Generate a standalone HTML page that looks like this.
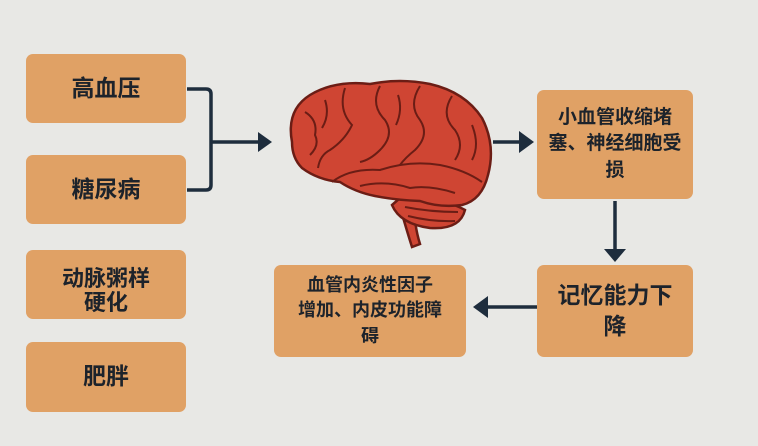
<!DOCTYPE html>
<html><head><meta charset="utf-8"><style>
body{margin:0;width:758px;height:446px;background:#e8e8e5;position:relative;overflow:hidden;font-family:"Liberation Sans","Noto Sans CJK SC",sans-serif;}
.b{position:absolute;background:#e0a165;border-radius:7px;display:flex;align-items:center;justify-content:center;text-align:center;color:#1d232b;font-weight:bold;line-height:1.3;}
svg{position:absolute;left:0;top:0}
</style></head><body>
<div class="b" style="left:26px;top:54px;width:160px;height:69px;font-size:23px">高血压</div>
<div class="b" style="left:26px;top:155px;width:160px;height:69px;font-size:23px">糖尿病</div>
<div class="b" style="left:26px;top:250px;width:160px;height:69px;font-size:22px;line-height:1.05;padding-top:12px;box-sizing:border-box">动脉粥样<br>硬化</div>
<div class="b" style="left:26px;top:342px;width:160px;height:70px;font-size:23px">肥胖</div>
<div class="b" style="left:537px;top:90px;width:156px;height:109px;font-size:19px;line-height:1.4">小血管收缩堵<br>塞、神经细胞受<br>损</div>
<div class="b" style="left:537px;top:265px;width:156px;height:92px;font-size:23px;line-height:1.35">记忆能力下<br>降</div>
<div class="b" style="left:274px;top:265px;width:192px;height:92px;font-size:18px;line-height:1.4">血管内炎性因子<br>增加、内皮功能障<br>碍</div>
<svg width="758" height="446">
<g stroke="#1e2d3d" stroke-width="3.5" fill="none">
<path d="M187 89 H206 Q211 89 211 94 V185 Q211 190 206 190 H187"/>
<path d="M211 142 H262"/>
<path d="M493 142 H522"/>
<path d="M615 201 V250"/>
<path d="M537 307 H485"/>
</g>
<g fill="#1e2d3d">
<path d="M258 132 L272 142 L258 152Z"/>
<path d="M519 131 L534 142 L519 153Z"/>
<path d="M604 249 L626 249 L615 262Z"/>
<path d="M488 296 L473 307 L488 318Z"/>
</g>
<g stroke="#6b1d15" stroke-width="2.5" fill="#cf4533">
<path d="M398 200 Q406 228 412 247 L420 244 Q414 225 414 202Z"/>
<path d="M392 205 Q400 224 430 228 Q460 230 465 210 Q440 196 400 198Z"/>
<path d="M292 142 Q286 110 310 95 Q335 80 370 84 Q400 78 430 84 Q465 92 482 118 Q496 145 488 175 Q482 200 462 205 Q440 208 420 201 Q395 200 375 196 Q355 192 340 182 Q318 180 302 168 Q292 158 292 142Z"/>
</g>
<g stroke="#6b1d15" stroke-width="2" fill="none">
<path d="M332 182 Q350 168 380 170 Q410 160 440 165 Q465 170 482 182"/>
<path d="M345 88 Q338 110 352 125 Q345 140 330 150 Q320 155 318 168"/>
<path d="M380 86 Q370 105 385 120 Q395 135 380 150 Q370 160 360 162"/>
<path d="M420 86 Q408 105 420 120 Q430 135 415 150 Q405 158 400 165"/>
<path d="M452 96 Q440 115 455 130 Q465 145 455 160"/>
<path d="M305 112 Q318 120 315 135 Q320 145 310 155"/>
<path d="M472 125 Q480 145 472 160"/>
<path d="M325 100 Q330 115 322 128"/>
<path d="M398 95 Q403 110 396 125"/>
<path d="M360 186 Q385 180 410 188 Q430 185 455 193"/>
<path d="M405 207 Q430 212 458 212 M408 216 Q432 222 455 221"/>
</g>
</svg>
</body></html>
